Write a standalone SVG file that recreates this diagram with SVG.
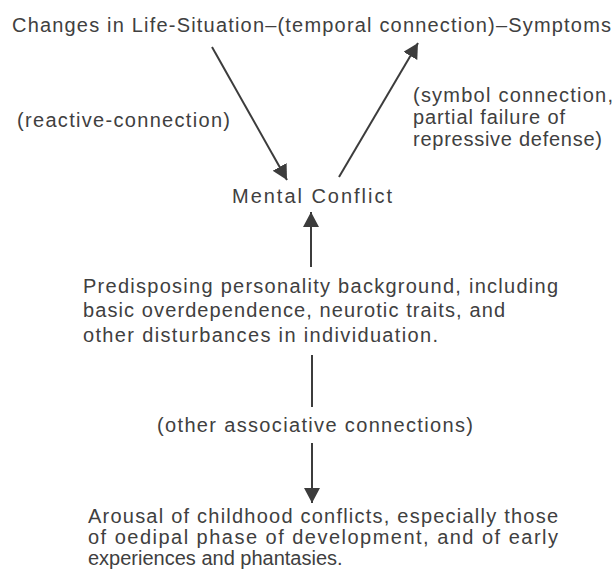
<svg xmlns="http://www.w3.org/2000/svg" width="616" height="578" viewBox="0 0 616 578">
<style>
text{font-family:"Liberation Sans","DejaVu Sans",sans-serif;font-size:20px;fill:#404040}
.ln{stroke:#3c3c3c;stroke-width:2;fill:none}
</style>
<defs>
<marker id="ah" markerUnits="userSpaceOnUse" markerWidth="18" markerHeight="18" refX="15" refY="8" orient="auto">
<path d="M0,0 L15,8 L0,16 Z" fill="#3c3c3c"/>
</marker>
</defs>
<rect width="616" height="578" fill="#ffffff"/>
<g id="connectors">
<line class="ln" x1="212" y1="47" x2="287" y2="180" marker-end="url(#ah)"/>
<line class="ln" x1="339" y1="177" x2="418" y2="43" marker-end="url(#ah)"/>
<line class="ln" x1="311" y1="267" x2="311" y2="212" marker-end="url(#ah)"/>
<line class="ln" x1="312" y1="355" x2="312" y2="407"/>
<line class="ln" x1="312" y1="443" x2="312" y2="503" marker-end="url(#ah)"/>
<g id="label-reactive"><text x="17" y="127" textLength="213">(reactive-connection)</text></g>
<g id="label-symbol">
<text x="413" y="102" textLength="200">(symbol connection,</text>
<text x="413" y="124" textLength="152">partial failure of</text>
<text x="413" y="146" textLength="189">repressive defense)</text>
</g>
<g id="label-associative"><text x="157" y="432" textLength="316">(other associative connections)</text></g>
</g>
<g id="node-top"><text x="12" y="32" textLength="599">Changes in Life-Situation–(temporal connection)–Symptoms</text></g>
<g id="node-conflict"><text x="232" y="203" textLength="160">Mental Conflict</text></g>
<g id="node-predisposing">
<text x="83" y="293" textLength="475">Predisposing personality background, including</text>
<text x="83" y="317" textLength="422">basic overdependence, neurotic traits, and</text>
<text x="83" y="342" textLength="355">other disturbances in individuation.</text>
</g>
<g id="node-arousal">
<text x="88" y="523" textLength="470">Arousal of childhood conflicts, especially those</text>
<text x="88" y="544" textLength="470">of oedipal phase of development, and of early</text>
<text x="88" y="565">experiences and phantasies.</text>
</g>
</svg>
